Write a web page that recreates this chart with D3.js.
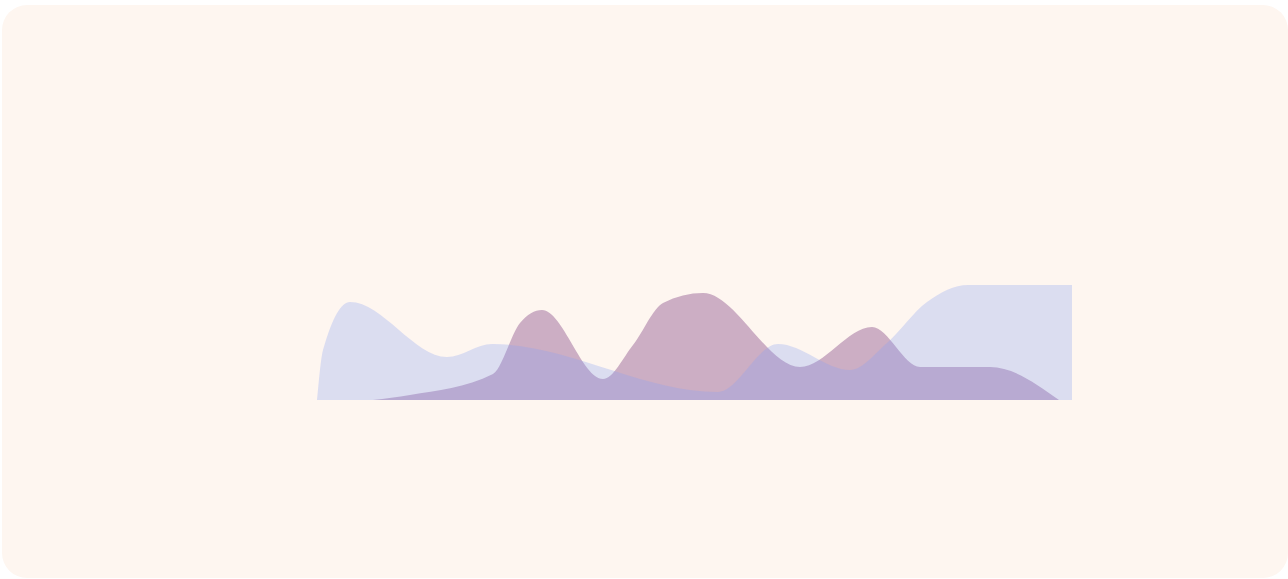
<!DOCTYPE html>
<html>
<head>
<meta charset="utf-8">
<script src="https://cdn.jsdelivr.net/npm/d3@7"></script>
<style>
  body { margin: 0; background: #ffffff; }
</style>
</head>
<body>
<div id="chart"></div>
<script>
// series values (x in domain units 0..755, y values 0..150)
const blueX = [0, 6, 33, 130, 175, 401, 461, 533, 570, 610, 651, 755];
const blueY = [0, 50, 98, 43, 56, 8, 56, 30, 57, 98, 115, 115];

const mauveX = [56, 93, 176, 203, 225, 286, 316, 346, 386, 483, 555, 603, 673, 742];
const mauveY = [0, 5, 26, 77, 90, 21, 55, 97, 107, 33, 73, 33, 33, 0];

const width = 1288;
const height = 579;

const svg = d3.select("#chart").append("svg")
  .attr("width", width)
  .attr("height", height);

// card background
svg.append("rect")
  .attr("x", 2)
  .attr("y", 5)
  .attr("width", 1286)
  .attr("height", 573)
  .attr("rx", 25)
  .attr("fill", "#fef6f0");

const x = d3.scaleLinear().domain([0, 755]).range([317, 1072]);
const y = d3.scaleLinear().domain([0, 150]).range([400, 250]);

const area = d3.area()
  .curve(d3.curveMonotoneX)
  .x(d => x(d[0]))
  .y0(y(0))
  .y1(d => y(d[1]));

const mauve = d3.zip(mauveX, mauveY);
const blue = d3.zip(blueX, blueY);

// Draw areas (blue sits on top)
svg.append("path")
  .datum(mauve)
  .attr("d", area)
  .attr("fill", "#996597")
  .attr("fill-opacity", 0.5);

svg.append("path")
  .datum(blue)
  .attr("d", area)
  .attr("fill", "#8ca2f2")
  .attr("fill-opacity", 0.3);
</script>
</body>
</html>
